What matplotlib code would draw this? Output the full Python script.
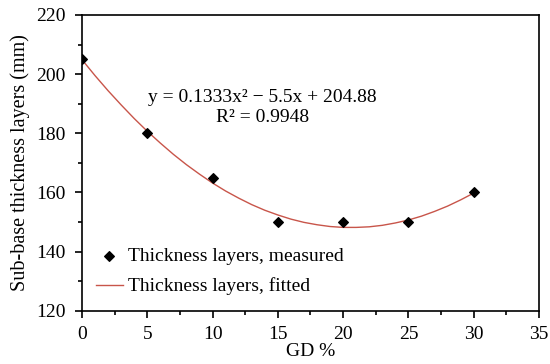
import matplotlib.pyplot as plt
from matplotlib.ticker import MultipleLocator

plt.rcParams['font.family'] = ['Liberation Serif', 'DejaVu Serif']

# measured points
gd = [0, 5, 10, 15, 20, 25, 30]
thickness = [205, 180, 165, 150, 150, 150, 160]

# fitted curve
fit_x = list(range(0, 31))
fit_y = [204.9, 199.5, 194.4, 189.6, 185.0, 180.7, 176.7, 172.9, 169.4, 166.2,
         163.2, 160.5, 158.1, 155.9, 154.0, 152.4, 151.0, 149.9, 149.1, 148.5,
         148.2, 148.2, 148.4, 148.9, 149.7, 150.7, 152.0, 153.6, 155.4, 157.5,
         159.8]

fig = plt.figure(figsize=(5.5, 3.64), dpi=100)
ax = fig.add_axes([0.149, 0.146, 0.831, 0.813])

ax.plot(fit_x, fit_y, color='#c8554a', lw=1.0, label='Thickness layers, fitted', zorder=2)
ax.scatter(gd, thickness, marker='D', s=24, color='black', label='Thickness layers, measured', zorder=3)

ax.set_xlim(0, 35)
ax.set_ylim(120, 220)
ax.xaxis.set_major_locator(MultipleLocator(5))
ax.xaxis.set_minor_locator(MultipleLocator(2.5))
ax.yaxis.set_major_locator(MultipleLocator(20))
ax.yaxis.set_minor_locator(MultipleLocator(10))
ax.tick_params(which='both', direction='out', labelsize=14, width=1.2)
ax.tick_params(which='major', length=5)
ax.tick_params(which='minor', length=3)
ax.tick_params(axis='x', which='major', pad=6)
ax.tick_params(axis='y', which='major', pad=7)
for s in ax.spines.values():
    s.set_linewidth(1.2)

ax.set_xlabel('GD %', fontsize=14, labelpad=0)
ax.set_ylabel('Sub-base thickness layers (mm)', fontsize=14.5, labelpad=4)

ax.text(13.8, 192.0, 'y = 0.1333x\u00b2 \u2212 5.5x + 204.88', fontsize=14, ha='center', va='center')
ax.text(13.8, 185.5, 'R\u00b2 = 0.9948', fontsize=14, ha='center', va='center')

h, l = ax.get_legend_handles_labels()
ax.legend(h[::-1], l[::-1], loc='lower left', frameon=False, fontsize=14,
          bbox_to_anchor=(0.0, 0.006), handlelength=1.4, handletextpad=0.25,
          labelspacing=0.65, borderaxespad=0.3)

fig.savefig('out.png', dpi=100)
